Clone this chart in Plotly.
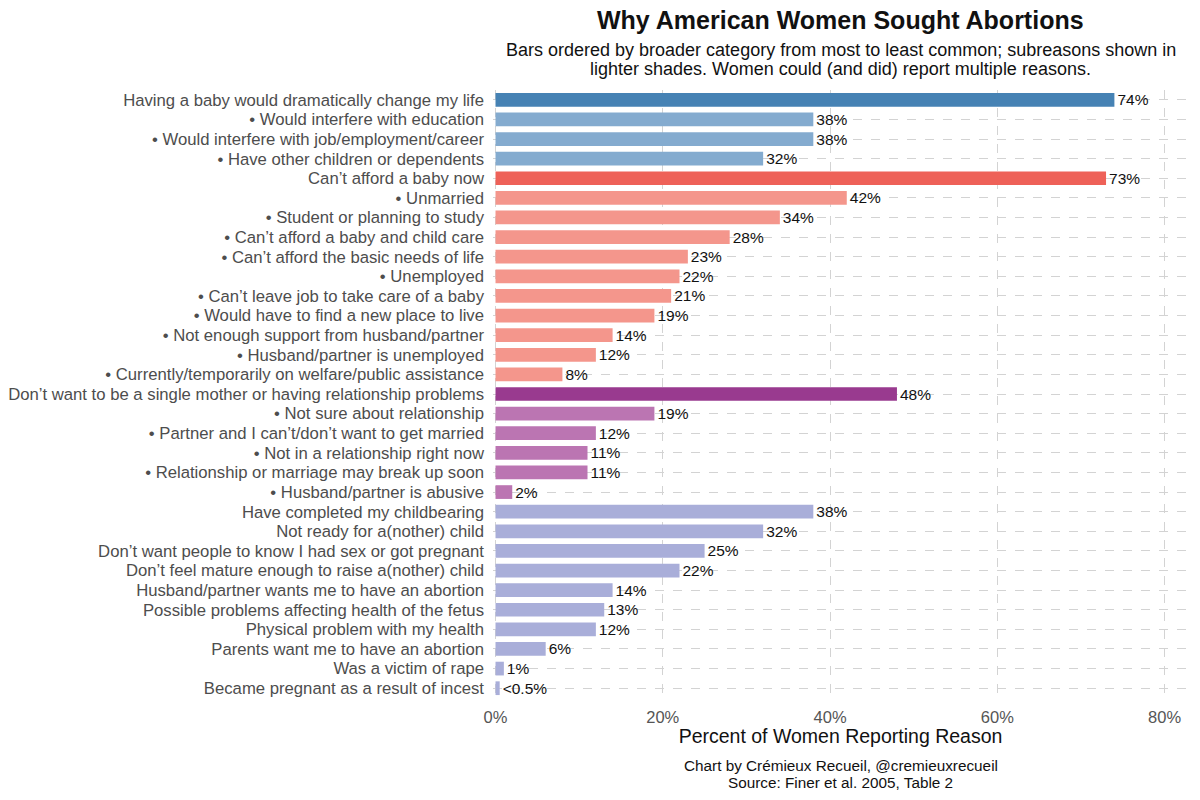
import plotly.graph_objects as go

categories = [
    "Having a baby would dramatically change my life",
    "• Would interfere with education",
    "• Would interfere with job/employment/career",
    "• Have other children or dependents",
    "Can’t afford a baby now",
    "• Unmarried",
    "• Student or planning to study",
    "• Can’t afford a baby and child care",
    "• Can’t afford the basic needs of life",
    "• Unemployed",
    "• Can’t leave job to take care of a baby",
    "• Would have to find a new place to live",
    "• Not enough support from husband/partner",
    "• Husband/partner is unemployed",
    "• Currently/temporarily on welfare/public assistance",
    "Don’t want to be a single mother or having relationship problems",
    "• Not sure about relationship",
    "• Partner and I can’t/don’t want to get married",
    "• Not in a relationship right now",
    "• Relationship or marriage may break up soon",
    "• Husband/partner is abusive",
    "Have completed my childbearing",
    "Not ready for a(nother) child",
    "Don’t want people to know I had sex or got pregnant",
    "Don’t feel mature enough to raise a(nother) child",
    "Husband/partner wants me to have an abortion",
    "Possible problems affecting health of the fetus",
    "Physical problem with my health",
    "Parents want me to have an abortion",
    "Was a victim of rape",
    "Became pregnant as a result of incest",
]
values = [74, 38, 38, 32, 73, 42, 34, 28, 23, 22, 21, 19, 14, 12, 8,
          48, 19, 12, 11, 11, 2, 38, 32, 25, 22, 14, 13, 12, 6, 1, 0.5]
value_labels = ["74%", "38%", "38%", "32%", "73%", "42%", "34%", "28%", "23%",
                "22%", "21%", "19%", "14%", "12%", "8%", "48%", "19%", "12%",
                "11%", "11%", "2%", "38%", "32%", "25%", "22%", "14%", "13%",
                "12%", "6%", "1%", "<0.5%"]
groups = ["blue_main", "blue_sub", "blue_sub", "blue_sub",
          "red_main"] + ["red_sub"] * 10 + ["purple_main"] + ["purple_sub"] * 5 + ["other"] * 10
x_ticks = [0, 20, 40, 60, 80]
x_tick_labels = ["0%", "20%", "40%", "60%", "80%"]

title_text = "Why American Women Sought Abortions"
subtitle_lines = [
    "Bars ordered by broader category from most to least common; subreasons shown in",
    "lighter shades. Women could (and did) report multiple reasons.",
]
caption_lines = [
    "Chart by Crémieux Recueil, @cremieuxrecueil",
    "Source: Finer et al. 2005, Table 2",
]

palette = {
    "blue_main": "#4682B4",
    "blue_sub": "#84ABCF",
    "red_main": "#EE6158",
    "red_sub": "#F4968C",
    "purple_main": "#993A8F",
    "purple_sub": "#BB75B2",
    "other": "#A9AED9",
}
colors = [palette[g] for g in groups]

font_family = "Liberation Sans, Arial, sans-serif"

fig = go.Figure(go.Bar(
    x=values,
    y=categories,
    orientation="h",
    marker=dict(color=colors, line=dict(width=0)),
    width=0.7,
    text=value_labels,
    textposition="outside",
    constraintext="none",
    textfont=dict(size=15.5, color="#111111", family=font_family),
    cliponaxis=False,
    hoverinfo="skip",
))

PLOT_TOP = 90.0   # picture px
PLOT_H = 608.0


def paper_y(py):
    return 1 + (PLOT_TOP - py) / PLOT_H


fig.update_layout(
    width=1192, height=792,
    margin=dict(l=485, r=12, t=82, b=102),
    paper_bgcolor="white", plot_bgcolor="white",
    font=dict(family=font_family),
    showlegend=False,
)

fig.update_xaxes(
    range=[-0.3, 82.8],
    tickvals=x_ticks,
    ticktext=x_tick_labels,
    tickfont=dict(size=16.5, color="#555555"),
    ticklabelstandoff=7,
    showgrid=True, gridcolor="#D3D3D3", griddash="dash", gridwidth=1,
    zeroline=False, showline=False, ticks="",
    title=dict(text="Percent of Women Reporting Reason",
               font=dict(size=19.5, color="#111111"), standoff=0),
)
fig.update_yaxes(
    autorange="reversed",
    tickmode="array",
    tickvals=categories,
    ticktext=categories,
    tickfont=dict(size=16.7, color="#4D4D4D"),
    ticklabelstandoff=8,
    showgrid=True, gridcolor="#D3D3D3", griddash="dash", gridwidth=1,
    ticks="", ticklen=0, showline=False,
    automargin=False,
)

fig.add_annotation(
    text="<b>" + title_text + "</b>",
    xref="paper", yref="paper", x=0.5, y=paper_y(20), xanchor="center", yanchor="middle",
    showarrow=False, font=dict(size=25, color="#111111"),
)
for i, line in enumerate(subtitle_lines):
    fig.add_annotation(
        text=line,
        xref="paper", yref="paper", x=0.5, y=paper_y(50 + 19.5 * i),
        xanchor="center", yanchor="middle",
        showarrow=False, font=dict(size=18, color="#111111"),
    )
for i, line in enumerate(caption_lines):
    fig.add_annotation(
        text=line,
        xref="paper", yref="paper", x=0.5, y=paper_y(765 + 17 * i),
        xanchor="center", yanchor="middle",
        showarrow=False, font=dict(size=15.3, color="#111111"),
    )

fig.write_html("out.html")
